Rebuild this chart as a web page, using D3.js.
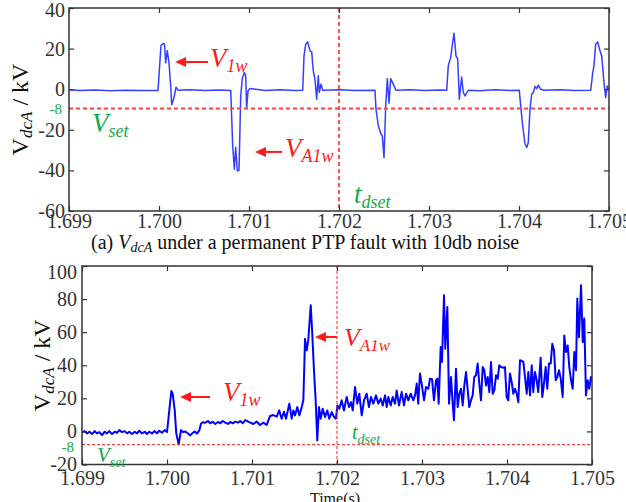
<!DOCTYPE html>
<html lang="en">
<head>
<meta charset="UTF-8">
<title>VdcA under a permanent PTP fault</title>
<script src="https://d3js.org/d3.v7.min.js"></script>
<style>
  body { margin: 0; background: #fff; }
  svg { display: block; }
</style>
</head>
<body>
<svg width="626" height="502"></svg>
<script>
// shared time ticks (s)
const xTicks = [1.699, 1.700, 1.701, 1.702, 1.703, 1.704, 1.705];

// (a) 10db noise trace, kV
const topYTicks = [40, 20, 0, -20, -40, -60];
const topTime = [
  1.699000, 1.699122, 1.699289, 1.699456, 1.699622, 1.699789, 1.699989, 1.700022, 1.700044, 1.700061,
  1.700074, 1.700092, 1.700111, 1.700130, 1.700141, 1.700167, 1.700189, 1.700211, 1.700344, 1.700511,
  1.700678, 1.700797, 1.700819, 1.700837, 1.700852, 1.700870, 1.700889, 1.700908, 1.700926, 1.700948,
  1.700963, 1.700974, 1.700989, 1.701011, 1.701178, 1.701344, 1.701511, 1.701597, 1.701611, 1.701630,
  1.701652, 1.701678, 1.701697, 1.701714, 1.701733, 1.701752, 1.701770, 1.701781, 1.701800, 1.701819,
  1.702011, 1.702178, 1.702400, 1.702411, 1.702437, 1.702463, 1.702481, 1.702500, 1.702519, 1.702537,
  1.702556, 1.702574, 1.702603, 1.702633, 1.702789, 1.702956, 1.703122, 1.703197, 1.703214, 1.703241,
  1.703263, 1.703278, 1.703300, 1.703319, 1.703337, 1.703363, 1.703381, 1.703400, 1.703437, 1.703567,
  1.703733, 1.703900, 1.704003, 1.704019, 1.704041, 1.704067, 1.704086, 1.704103, 1.704122, 1.704141,
  1.704159, 1.704178, 1.704197, 1.704214, 1.704241, 1.704278, 1.704456, 1.704622, 1.704797, 1.704819,
  1.704833, 1.704852, 1.704874, 1.704900, 1.704919, 1.704944, 1.704963, 1.704981, 1.705000
];
const topVolt = [
  -0.3, -0.7, -0.4, -0.8, -0.5, -0.6, -0.6, 21.5, 22.5, 22.3,
  13, 19, 13, 1.6, -7.7, -4, 1, -0.5, -0.3, -0.7,
  -0.4, -0.6, -28, -39.4, -28.6, -40.2, -40, -3.3, 5.4, 8.2,
  6.6, -9.4, -0.8, 0.3, -0.6, -0.3, -0.7, -0.5, 16.4, 22.2,
  23.3, 18.9, 18.4, 9, 4.9, -4.9, 6.6, -1.6, 2.5, -0.5,
  -0.3, -0.6, -0.5, -9.9, -18, -21.7, -23, -33.7, -8.2, 5.2,
  -6.9, 5.2, 2.5, -0.5, -0.3, -0.7, -0.4, -0.5, 11.5, 15.6,
  23, 27.6, 16.4, 14.8, -4.9, 6, -1.6, -3.3, -0.5, -0.8,
  -0.3, -0.6, -0.5, -8.2, -18, -27, -28.7, -26.3, -9.9, -2.5,
  -1.6, 1.3, 0.3, 2, 0, -0.5, -0.3, -0.7, -0.5, 8.2,
  11.5, 22.2, 23.3, 18.9, 16.4, 3.3, -4.1, 1.6, -0.8
];

// (b) trace, kV
const botYTicks = [100, 80, 60, 40, 20, 0, -20];
const botTime = [
  1.699000, 1.699032, 1.699059, 1.699086, 1.699118, 1.699149, 1.699176, 1.699204, 1.699235, 1.699267,
  1.699294, 1.699321, 1.699353, 1.699385, 1.699412, 1.699439, 1.699471, 1.699502, 1.699529, 1.699556,
  1.699588, 1.699620, 1.699647, 1.699674, 1.699706, 1.699738, 1.699765, 1.699792, 1.699824, 1.699855,
  1.699882, 1.699909, 1.699941, 1.699973, 1.700000, 1.700027, 1.700051, 1.700067, 1.700091, 1.700109,
  1.700138, 1.700165, 1.700188, 1.700215, 1.700247, 1.700274, 1.700294, 1.700326, 1.700353, 1.700380,
  1.700400, 1.700420, 1.700451, 1.700482, 1.700509, 1.700538, 1.700568, 1.700600, 1.700627, 1.700655,
  1.700686, 1.700718, 1.700745, 1.700773, 1.700804, 1.700835, 1.700862, 1.700891, 1.700921, 1.700953,
  1.700980, 1.701015, 1.701055, 1.701094, 1.701133, 1.701173, 1.701212, 1.701251, 1.701291, 1.701321,
  1.701349, 1.701376, 1.701400, 1.701439, 1.701467, 1.701486, 1.701506, 1.701533, 1.701556, 1.701585,
  1.701604, 1.701624, 1.701644, 1.701662, 1.701691, 1.701709, 1.701729, 1.701749, 1.701768, 1.701788,
  1.701808, 1.701832, 1.701859, 1.701886, 1.701909, 1.701938, 1.701965, 1.701988, 1.702004, 1.702027,
  1.702055, 1.702082, 1.702114, 1.702141, 1.702165, 1.702185, 1.702212, 1.702239, 1.702262, 1.702291,
  1.702318, 1.702349, 1.702376, 1.702400, 1.702427, 1.702459, 1.702486, 1.702514, 1.702538, 1.702565,
  1.702585, 1.702604, 1.702632, 1.702655, 1.702682, 1.702702, 1.702729, 1.702761, 1.702788, 1.702812,
  1.702839, 1.702867, 1.702898, 1.702918, 1.702938, 1.702956, 1.702976, 1.702996, 1.703024, 1.703047,
  1.703074, 1.703094, 1.703118, 1.703141, 1.703165, 1.703180, 1.703196, 1.703220, 1.703235, 1.703259,
  1.703274, 1.703298, 1.703318, 1.703341, 1.703361, 1.703376, 1.703400, 1.703420, 1.703439, 1.703459,
  1.703479, 1.703498, 1.703518, 1.703538, 1.703556, 1.703576, 1.703596, 1.703615, 1.703635, 1.703655,
  1.703674, 1.703694, 1.703714, 1.703733, 1.703753, 1.703773, 1.703792, 1.703812, 1.703832, 1.703851,
  1.703871, 1.703891, 1.703909, 1.703929, 1.703956, 1.703976, 1.703996, 1.704015, 1.704035, 1.704055,
  1.704074, 1.704094, 1.704114, 1.704133, 1.704153, 1.704173, 1.704192, 1.704212, 1.704232, 1.704251,
  1.704271, 1.704291, 1.704309, 1.704329, 1.704349, 1.704368, 1.704396, 1.704415, 1.704435, 1.704455,
  1.704474, 1.704494, 1.704514, 1.704533, 1.704553, 1.704573, 1.704592, 1.704612, 1.704632, 1.704655,
  1.704674, 1.704694, 1.704714, 1.704733, 1.704753, 1.704773, 1.704792, 1.704812, 1.704827, 1.704847,
  1.704871, 1.704891, 1.704909, 1.704929, 1.704949, 1.704968, 1.704988, 1.705000
];
const botVolt = [
  -0.6, 0.2, -1.2, -0.2, -1.6, 0.2, -1.2, -0.4, -2.2, -0.2,
  -1.2, 0.2, -1.6, -0.2, -0.8, 0.8, -0.4, 0.2, -1.2, -0.2,
  -1.6, -0.2, -1.2, 0.4, -1.2, -0.2, -1.6, -0.2, -1.2, 0.2,
  -1.2, 0.4, -0.8, 0.8, -0.4, 12.7, 24.4, 22.8, 12.7, -1.3,
  -7.7, 0.8, -0.4, 0, -1.3, -2.4, -1.3, 0, -1.3, 0.6,
  4.6, 5.6, 5.3, 6.3, 4.9, 5.9, 4.5, 5.7, 4.9, 6.3,
  5.3, 4.5, 5.7, 4.9, 5.9, 5.3, 6.3, 4.9, 6.9, 5.9,
  5.3, 4.5, 5.9, 3.9, 5.3, 3.9, 9.3, 9.9, 8.9, 12.7,
  7.7, 11.9, 7.7, 16.8, 7.7, 12.7, 9.7, 14.7, 9.7, 14.7,
  18.8, 56, 49, 55, 76.3, 59, 37, 18.8, -5.4, 14.7,
  7.7, 13.7, 8.7, 12.7, 7.7, 11.7, 8.7, 7.7, 15.7, 13.7,
  18.8, 12.7, 20.8, 14.7, 17.7, 12.7, 26.8, 16.8, 22.8, 9.7,
  18.8, 22.8, 14.7, 20.8, 16.8, 21.8, 16.8, 19.8, 15.7, 21.8,
  14.7, 20.8, 15.7, 20.8, 16.8, 24.8, 15.7, 23.8, 15.7, 22.8,
  18.8, 22.8, 18.8, 21.8, 28.9, 16.8, 35, 28.9, 18.8, 26.8,
  25.8, 31.9, 31.5, 18.8, 30.9, 31.9, 16.8, 51, 42, 82.3,
  50, 75.2, 16.8, 32.9, 16.8, 6.7, 37.9, 14.7, 22.8, 25.8,
  15.7, 27.8, 35.9, 25, 14.7, 18.8, 21.8, 32.9, 33.9, 41,
  28.9, 18.8, 38.9, 37, 27.8, 32.9, 23.8, 42, 22.8, 24.8,
  33.9, 31.9, 40, 38.9, 38.5, 38.9, 20.8, 18.8, 35, 29.9,
  22.8, 25.8, 22.8, 17.7, 43, 42.6, 42, 32.9, 22.8, 35.9,
  21.8, 40, 23.8, 35.9, 30.9, 23.8, 44.6, 20.8, 28.9, 38.9,
  25.8, 41, 41, 53, 49, 30.9, 32.9, 37, 31.9, 20.8,
  58, 48, 52, 38.9, 30.9, 25.8, 48, 37, 80.3, 57,
  88.4, 54, 68.2, 21.8, 30.9, 25.8, 32.9, 30
];

// thresholds and labels
const vsetTop = -9.5, vsetBot = -8, tdset = 1.702;
const vsetLabel = "-8";

const serif = "'Liberation Serif', 'Times New Roman', Times, serif";
const svg = d3.select("svg").attr("font-family", serif);
const red = "#ff1a1a", green = "#12a84a", axisColor = "#333";

function subText(g, x, y, main, sub, opts) {
  const t = g.append("text")
    .attr("x", x).attr("y", y)
    .attr("font-family", serif)
    .attr("fill", opts.color)
    .attr("font-style", "italic");
  t.append("tspan").attr("font-size", opts.big).text(main);
  t.append("tspan").attr("font-size", opts.small).attr("dy", opts.shift).text(sub);
  return t;
}

function arrow(g, x1, x2, y, color) {
  // x1 = head, x2 = tail
  g.append("line")
    .attr("x1", x1 + 8).attr("x2", x2).attr("y1", y).attr("y2", y)
    .attr("stroke", color).attr("stroke-width", 2);
  g.append("path")
    .attr("d", `M${x1},${y} L${x1 + 11},${y - 5} L${x1 + 11},${y + 5} Z`)
    .attr("fill", color);
}

function drawPanel(cfg) {
  const x = d3.scaleLinear().domain([xTicks[0], xTicks[xTicks.length - 1]]).range([cfg.left, cfg.right]);
  const y = d3.scaleLinear().domain([cfg.yTicks[cfg.yTicks.length - 1], cfg.yTicks[0]]).range([cfg.bottom, cfg.top]);
  const g = svg.append("g");

  g.append("clipPath").attr("id", cfg.id)
    .append("rect")
    .attr("x", cfg.left).attr("y", cfg.top)
    .attr("width", cfg.right - cfg.left).attr("height", cfg.bottom - cfg.top);

  const line = d3.line().x((d, i) => x(cfg.time[i])).y(d => y(d));
  g.append("path")
    .datum(cfg.volt)
    .attr("clip-path", `url(#${cfg.id})`)
    .attr("fill", "none")
    .attr("stroke", cfg.traceColor)
    .attr("stroke-width", cfg.traceWidth)
    .attr("stroke-linejoin", "round")
    .attr("d", line);

  // threshold lines
  g.append("line")
    .attr("x1", cfg.left).attr("x2", cfg.right)
    .attr("y1", y(cfg.vset)).attr("y2", y(cfg.vset))
    .attr("stroke", cfg.dashColor).attr("stroke-width", cfg.dashWidth)
    .attr("stroke-dasharray", cfg.dash);
  g.append("line")
    .attr("x1", x(tdset)).attr("x2", x(tdset))
    .attr("y1", cfg.top).attr("y2", cfg.bottom)
    .attr("stroke", cfg.dashColor).attr("stroke-width", cfg.dashWidth)
    .attr("stroke-dasharray", cfg.dash);

  // axes, ticks inside the box
  const styleAxis = sel => {
    sel.select(".domain").remove();
    sel.attr("font-family", serif).attr("font-size", 20);
    sel.selectAll("line").attr("stroke", axisColor).attr("stroke-width", 1.2);
    sel.selectAll("text").attr("fill", "#333");
  };
  g.append("g").attr("transform", `translate(0,${cfg.bottom})`)
    .call(d3.axisBottom(x).tickValues(xTicks).tickFormat(d3.format(".3f"))
      .tickSizeInner(-5).tickSizeOuter(0).tickPadding(cfg.xPad))
    .call(styleAxis);
  g.append("g").attr("transform", `translate(0,${cfg.top})`)
    .call(d3.axisTop(x).tickValues(xTicks).tickFormat("").tickSizeInner(-5).tickSizeOuter(0))
    .call(styleAxis);
  const yAxis = g.append("g").attr("transform", `translate(${cfg.left},0)`)
    .call(d3.axisLeft(y).tickValues(cfg.yTicks).tickFormat(d => String(d))
      .tickSizeInner(-5).tickSizeOuter(0).tickPadding(cfg.yPad))
    .call(styleAxis);
  // the top value label sits a little lower, as in the source figure
  yAxis.selectAll(".tick text").filter(d => d === cfg.yTicks[0]).attr("dy", cfg.topLabelDy);
  g.append("g").attr("transform", `translate(${cfg.right},0)`)
    .call(d3.axisRight(y).tickValues(cfg.yTicks).tickFormat("").tickSizeInner(-5).tickSizeOuter(0))
    .call(styleAxis);

  g.append("rect")
    .attr("x", cfg.left).attr("y", cfg.top)
    .attr("width", cfg.right - cfg.left).attr("height", cfg.bottom - cfg.top)
    .attr("fill", "none").attr("stroke", axisColor).attr("stroke-width", 1.5);

  // green threshold value at the axis
  g.append("text")
    .attr("x", cfg.left - cfg.yPad - 3).attr("y", y(cfg.vset) + cfg.vsetLabelShift)
    .attr("dy", "0.35em").attr("text-anchor", "end")
    .attr("font-size", 15).attr("fill", green)
    .text(vsetLabel);

  // y label
  const yl = g.append("text")
    .attr("transform", `translate(${cfg.ylabX},${(cfg.top + cfg.bottom) / 2}) rotate(-90)`)
    .attr("text-anchor", "middle").attr("fill", "#111").attr("font-size", 24);
  yl.append("tspan").text("V");
  yl.append("tspan").attr("font-size", 17).attr("font-style", "italic").attr("dy", 4).text("dcA");
  yl.append("tspan").attr("dy", -4).text(" / kV");

  // annotations
  const a = cfg.ann;
  arrow(g, x(a.v1[0]), x(a.v1[1]), y(a.v1[2]), red);
  subText(g, x(a.v1[3]), y(a.v1[4]), "V", "1w", { color: red, big: 27, small: 18, shift: 5 });
  arrow(g, x(a.va[0]), x(a.va[1]), y(a.va[2]), red);
  subText(g, x(a.va[3]), y(a.va[4]), "V", "A1w", { color: red, big: a.vaSize[0], small: a.vaSize[1], shift: 5 });
  subText(g, x(a.vs[0]), y(a.vs[1]), "V", "set", { color: green, big: a.vs[2], small: a.vs[3], shift: 5 });
  subText(g, x(a.td[0]), y(a.td[1]), "t", "dset", { color: green, big: a.td[2], small: a.td[3], shift: 5 });

  return { x, y };
}

drawPanel({
  id: "clipTop", left: 69, right: 609, top: 8, bottom: 211,
  yTicks: topYTicks, time: topTime, volt: topVolt, vset: vsetTop,
  traceColor: "#3340ff", traceWidth: 1.5,
  dashColor: "#ff4040", dashWidth: 1.8, dash: "4,3",
  xPad: 3, yPad: 4, ylabX: 28, topLabelDy: "0.4em", vsetLabelShift: 0,
  ann: {
    v1: [1.700178, 1.700544, 13.4, 1.700567, 10.9],
    va: [1.701067, 1.701367, -30.9, 1.701400, -33.4],
    vaSize: [27, 18],
    vs: [1.699256, -21.1, 27, 18],
    td: [1.702167, -56, 27, 18]
  }
});

drawPanel({
  id: "clipBot", left: 82, right: 592, top: 266, bottom: 464.5,
  yTicks: botYTicks, time: botTime, volt: botVolt, vset: vsetBot,
  traceColor: "#0000ff", traceWidth: 2,
  dashColor: "#ff2020", dashWidth: 1, dash: "3,2",
  xPad: 6, yPad: 5, ylabX: 50, topLabelDy: "0.6em", vsetLabelShift: 2,
  ann: {
    v1: [1.700153, 1.700506, 20.8, 1.700659, 18.4],
    va: [1.701741, 1.702000, 57.1, 1.702082, 51.6],
    vaSize: [26, 17],
    vs: [1.699176, -18.5, 21, 14],
    td: [1.702176, -4.6, 20, 14]
  }
});

// caption of panel (a)
const cap = svg.append("text")
  .attr("x", 91).attr("y", 249)
  .attr("font-size", 20).attr("fill", "#111");
cap.append("tspan").text("(a) ");
cap.append("tspan").attr("font-style", "italic").text("V");
cap.append("tspan").attr("font-style", "italic").attr("font-size", 14).attr("dy", 3).text("dcA");
cap.append("tspan").attr("dy", -3).text(" under a permanent PTP fault with 10db noise");

// x label of panel (b), cut by the page edge
svg.append("text")
  .attr("x", 335).attr("y", 504)
  .attr("text-anchor", "middle").attr("font-size", 16).attr("fill", "#111")
  .text("Time(s)");
</script>
</body>
</html>
